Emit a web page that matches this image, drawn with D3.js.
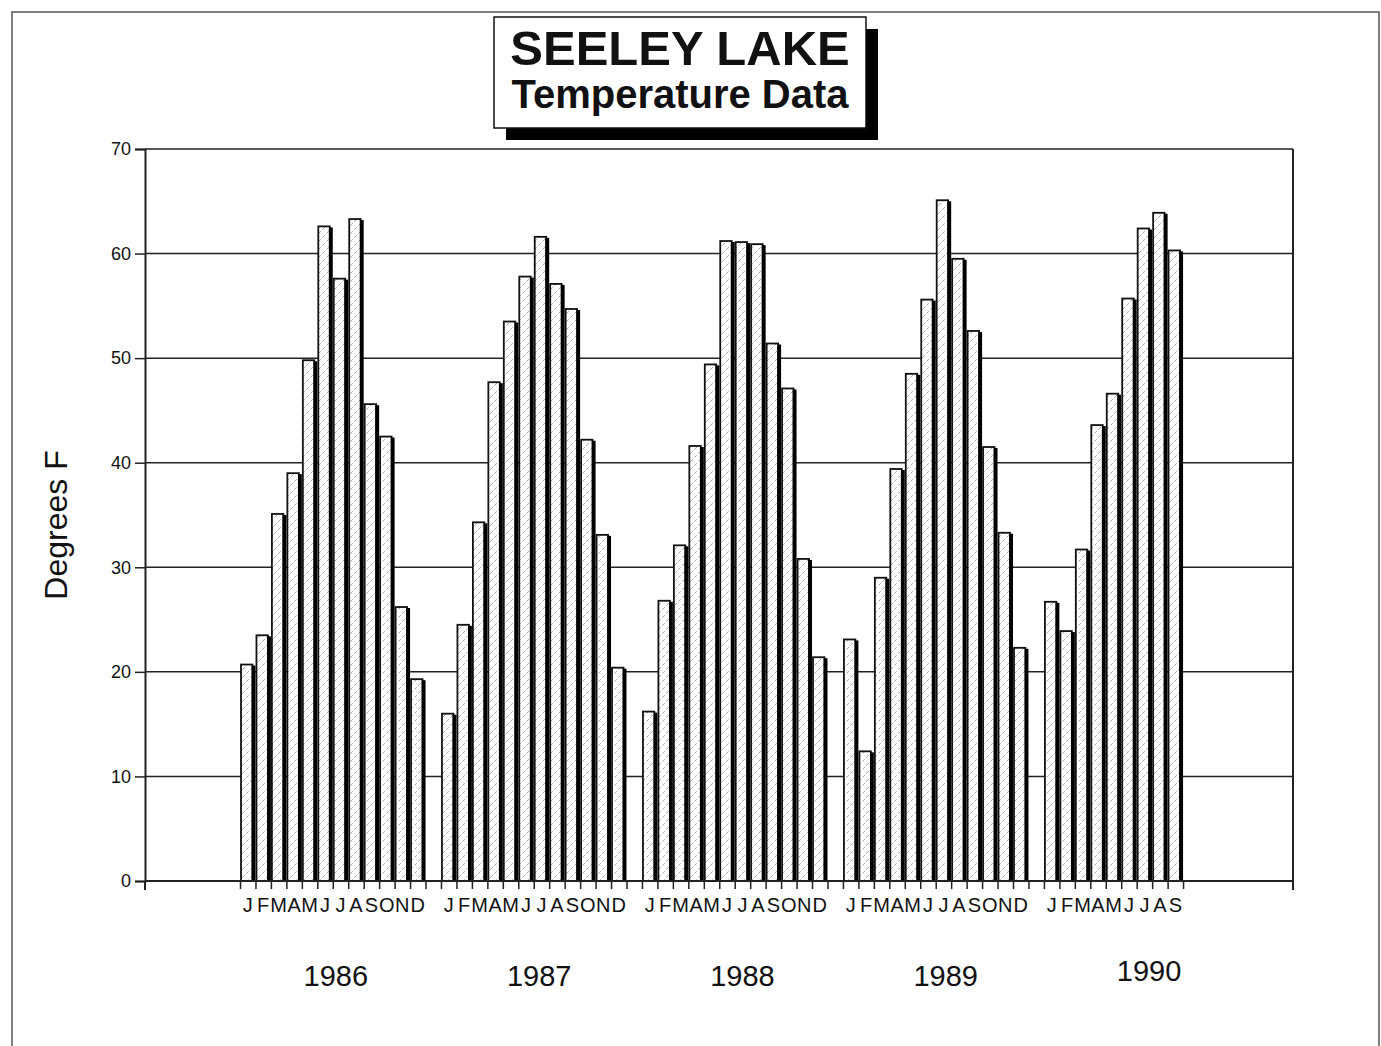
<!DOCTYPE html>
<html>
<head>
<meta charset="utf-8">
<script src="https://cdn.jsdelivr.net/npm/d3@7"></script>
<style>
  body { margin: 0; background: #fff; }
  text { font-family: "Liberation Sans", Arial, Helvetica, sans-serif; fill: #111; }
</style>
</head>
<body>
<script>
var years = ["1986", "1987", "1988", "1989", "1990"];
var months = ["J", "F", "M", "A", "M", "J", "J", "A", "S", "O", "N", "D"];
var temps1986 = [20.7, 23.5, 35.1, 39.0, 49.8, 62.6, 57.6, 63.3, 45.6, 42.5, 26.2, 19.3];
var temps1987 = [16.0, 24.5, 34.3, 47.7, 53.5, 57.8, 61.6, 57.1, 54.7, 42.2, 33.1, 20.4];
var temps1988 = [16.2, 26.8, 32.1, 41.6, 49.4, 61.2, 61.1, 60.9, 51.4, 47.1, 30.8, 21.4];
var temps1989 = [23.1, 12.4, 29.0, 39.4, 48.5, 55.6, 65.1, 59.5, 52.6, 41.5, 33.3, 22.3];
var temps1990 = [26.7, 23.9, 31.7, 43.6, 46.6, 55.7, 62.4, 63.9, 60.3];
var yTicks = [0, 10, 20, 30, 40, 50, 60, 70];

var allTemps = [temps1986, temps1987, temps1988, temps1989, temps1990];

// flatten: every year takes 13 slots (12 months + gap)
var bars = [];
allTemps.forEach(function(arr, i) {
  arr.forEach(function(v, m) {
    bars.push({year: i, month: m, slot: i * 13 + m, value: v});
  });
});
var nSlots = (years.length - 1) * 13 + temps1990.length;

var width = 1381, height = 1046;
var plotLeft = 145, plotRight = 1293, plotTop = 149, plotBottom = 881;

var svg = d3.select("body").append("svg")
  .attr("width", width)
  .attr("height", height);

var defs = svg.append("defs");
var pat = defs.append("pattern")
  .attr("id", "hatch")
  .attr("patternUnits", "userSpaceOnUse")
  .attr("width", 8)
  .attr("height", 8);
pat.append("rect").attr("width", 8).attr("height", 8).attr("fill", "#fff");
pat.append("path")
  .attr("d", "M-2,10 L10,-2 M-2,2 L2,-2 M6,10 L10,6")
  .attr("stroke", "#9a9a9a")
  .attr("stroke-width", 0.9)
  .attr("stroke-dasharray", "4,2");

// outer frame of the page
svg.append("path")
  .attr("d", "M12," + height + " L12,12 L1379,12 L1379," + height)
  .attr("fill", "none")
  .attr("stroke", "#555")
  .attr("stroke-width", 1.5);

var x = d3.scaleLinear()
  .domain([0, nSlots])
  .range([240, 240 + nSlots * 15.46]);
var y = d3.scaleLinear()
  .domain([0, 70])
  .range([plotBottom, plotTop]);
var slotW = x(1) - x(0);

// grid lines
svg.append("g")
  .selectAll("line")
  .data(yTicks.slice(1))
  .enter()
  .append("line")
  .attr("x1", plotLeft)
  .attr("x2", plotRight)
  .attr("y1", function(d) {return y(d);})
  .attr("y2", function(d) {return y(d);})
  .attr("stroke", "#222")
  .attr("stroke-width", 1.5);

// right frame
svg.append("line")
  .attr("x1", plotRight).attr("x2", plotRight)
  .attr("y1", plotTop).attr("y2", plotBottom + 9)
  .attr("stroke", "#222")
  .attr("stroke-width", 2);

// bars
var g = svg.append("g");
g.selectAll("rect.bar")
  .data(bars)
  .enter()
  .append("rect")
  .attr("class", "bar")
  .attr("x", function(d) {return x(d.slot) + 1;})
  .attr("y", function(d) {return y(d.value);})
  .attr("width", slotW - 4)
  .attr("height", function(d) {return y(0) - y(d.value);})
  .attr("fill", "url(#hatch)")
  .attr("stroke", "#111")
  .attr("stroke-width", 1.8);
g.selectAll("rect.shade")
  .data(bars)
  .enter()
  .append("rect")
  .attr("class", "shade")
  .attr("x", function(d) {return x(d.slot) + slotW - 3.8;})
  .attr("y", function(d) {return y(d.value) + 1;})
  .attr("width", 3.8)
  .attr("height", function(d) {return y(0) - y(d.value) - 1;})
  .attr("fill", "#000");

// y axis
var yAxis = svg.append("g")
  .attr("transform", "translate(" + plotLeft + ",0)")
  .call(d3.axisLeft(y).tickValues(yTicks).tickSize(10).tickPadding(4));
yAxis.select(".domain").attr("stroke", "#222").attr("stroke-width", 2);
yAxis.selectAll(".tick line").attr("stroke", "#222").attr("stroke-width", 1.5);
yAxis.selectAll(".tick text")
  .style("font-size", "18px")
  .style("font-family", "Liberation Sans, Arial, sans-serif")
  .attr("fill", "#111");

// x axis line and month ticks
svg.append("line")
  .attr("x1", plotLeft).attr("x2", plotRight)
  .attr("y1", plotBottom).attr("y2", plotBottom)
  .attr("stroke", "#222")
  .attr("stroke-width", 2);
svg.append("line")
  .attr("x1", plotLeft).attr("x2", plotLeft)
  .attr("y1", plotBottom).attr("y2", plotBottom + 9)
  .attr("stroke", "#222")
  .attr("stroke-width", 2);

var xAxis = svg.append("g")
  .attr("transform", "translate(0," + plotBottom + ")")
  .call(d3.axisBottom(x).tickValues(d3.range(nSlots + 1)).tickSize(8).tickFormat(""));
xAxis.select(".domain").remove();
xAxis.selectAll(".tick line").attr("stroke", "#222").attr("stroke-width", 1.5);

// month letters
svg.append("g")
  .selectAll("text")
  .data(bars)
  .enter()
  .append("text")
  .attr("x", function(d) {return x(d.slot + 0.5);})
  .attr("y", 912)
  .attr("text-anchor", "middle")
  .style("font-size", "20px")
  .text(function(d) {return months[d.month];});

// year labels
svg.append("g")
  .selectAll("text")
  .data(years)
  .enter()
  .append("text")
  .attr("x", function(d, i) {return x(i * 13.15 + 6.2);})
  .attr("y", function(d, i) {return i == 4 ? 981 : 986;})
  .attr("text-anchor", "middle")
  .style("font-size", "29px")
  .text(function(d) {return d;});

// y label
svg.append("text")
  .attr("transform", "translate(67,525) rotate(-90)")
  .attr("text-anchor", "middle")
  .style("font-size", "32px")
  .text("Degrees F");

// title box with shadow
svg.append("rect")
  .attr("x", 506).attr("y", 29)
  .attr("width", 372).attr("height", 111)
  .attr("fill", "#000");
svg.append("rect")
  .attr("x", 494).attr("y", 17)
  .attr("width", 372).attr("height", 111)
  .attr("fill", "#fff")
  .attr("stroke", "#111")
  .attr("stroke-width", 1.5);
svg.append("text")
  .attr("x", 680).attr("y", 65)
  .attr("text-anchor", "middle")
  .style("font-size", "49px")
  .style("font-weight", "bold")
  .text("SEELEY LAKE");
svg.append("text")
  .attr("x", 680).attr("y", 108)
  .attr("text-anchor", "middle")
  .style("font-size", "40px")
  .style("font-weight", "bold")
  .text("Temperature Data");
</script>
</body>
</html>
